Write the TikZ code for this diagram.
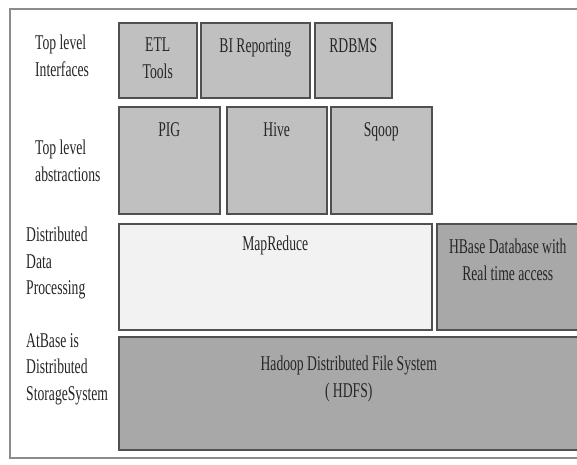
\documentclass[tikz,border=0pt]{standalone}
\usepackage{fontspec}
\setmainfont{Liberation Serif}[FakeStretch=0.65]
\usepackage{tikz}
\usetikzlibrary{positioning}

\definecolor{boxgray}{RGB}{192,192,192}
\definecolor{boxdark}{RGB}{168,168,168}
\definecolor{boxlight}{RGB}{242,242,242}
\definecolor{edgegray}{RGB}{80,80,80}
\definecolor{framegray}{RGB}{140,140,140}

\begin{document}
\begin{tikzpicture}[
    x=1pt, y=-1pt,
    layer/.style={draw=edgegray, line width=1.5pt, anchor=north west, inner sep=0pt},
    boxtext/.style={font=\fontsize{21}{27}\selectfont, text=black!85, align=center, inner sep=0pt, below=16pt of #1},
    sidetext/.style={font=\fontsize{21}{26.5}\selectfont, text=black!85, align=left, inner sep=0pt, anchor=north west}
]
\useasboundingbox (0,0) rectangle (577,464);
\clip (0,0) rectangle (577,464);

% Outer frame
\draw[framegray, line width=1.5pt] (10,9) rectangle (580,458);

% Top level interfaces
\node[layer, fill=boxgray, minimum width=78pt, minimum height=75pt] (etl) at (118,22) {};
\node[layer, fill=boxgray, minimum width=109pt, minimum height=75pt] (bi) at (200,22) {};
\node[layer, fill=boxgray, minimum width=77pt, minimum height=75pt] (rdbms) at (314,22) {};
\node[boxtext=etl.north] (etl-t) {ETL\\Tools};
\node[boxtext=bi.north] (bi-t) {BI Reporting};
\node[boxtext=rdbms.north] (rdbms-t) {RDBMS};

% Top level abstractions
\node[layer, fill=boxgray, minimum width=101pt, minimum height=107pt] (pig) at (118,106) {};
\node[layer, fill=boxgray, minimum width=100pt, minimum height=107pt] (hive) at (226,106) {};
\node[layer, fill=boxgray, minimum width=101pt, minimum height=107pt] (sqoop) at (330,106) {};
\node[boxtext=pig.north] (pig-t) {PIG};
\node[boxtext=hive.north] (hive-t) {Hive};
\node[boxtext=sqoop.north] (sqoop-t) {Sqoop};

% Distributed data processing
\node[layer, fill=boxlight, minimum width=313pt, minimum height=106pt] (mapred) at (118,223) {};
\node[layer, fill=boxdark, minimum width=150pt, minimum height=106pt] (hbase) at (436,223) {};
\node[boxtext=mapred.north, below=13pt of mapred.north] (mapred-t) {MapReduce};
\node[boxtext=hbase.north, xshift=-4pt] (hbase-t) {HBase Database with\\Real time access};

% Storage
\node[layer, fill=boxdark, minimum width=470pt, minimum height=113pt] (hdfs) at (118,336) {};
\node[boxtext=hdfs.north, below=20pt of hdfs.north, xshift=-5pt] (hdfs-t) {Hadoop Distributed File System\\( HDFS)};

% Side labels
\node[sidetext] (lbl-if) at (35,35) {Top level\\Interfaces};
\node[sidetext] (lbl-abs) at (35,140) {Top level\\abstractions};
\node[sidetext] (lbl-proc) at (26,227) {Distributed\\Data\\Processing};
\node[sidetext] (lbl-store) at (26,333) {AtBase is\\Distributed\\StorageSystem};

\end{tikzpicture}
\end{document}
